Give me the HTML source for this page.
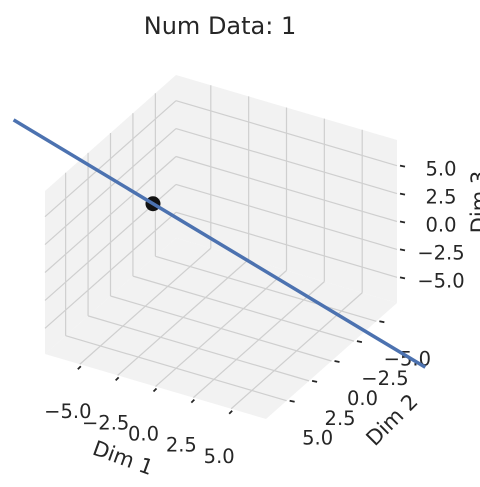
<!DOCTYPE html>
<html><head><meta charset="utf-8"><style>
html,body{margin:0;padding:0;background:#fff;}
svg{display:block;font-family:"DejaVu Sans","Liberation Sans",sans-serif;}
</style></head><body>
<svg id="chart" width="480" height="487" viewBox="0 0 480 487" xmlns="http://www.w3.org/2000/svg">
<text x="220" y="34" text-anchor="middle" font-size="24" fill="#262626">Num Data: 1</text>
<g id="panes"></g>
<g id="grid"></g>
<g id="ticks"></g>
<g id="series"></g>
<text x="0" y="7" font-size="21" fill="#262626" text-anchor="middle" transform="translate(123 458) rotate(20)">Dim 1</text>
<text x="0" y="7" font-size="21" fill="#262626" text-anchor="middle" transform="translate(392 420) rotate(-45)">Dim 2</text>
<text x="0" y="0" font-size="21" fill="#262626" text-anchor="middle" transform="translate(486 202) rotate(-90)">Dim 3</text>
</svg>
<script>
const tickValues = [-5, -2.5, 0, 2.5, 5];
const tickLabels = ["\u22125.0", "\u22122.5", "0.0", "2.5", "5.0"];
const lineX = [-16.3, 10.9];
const lineY = [-4.38, -4.38];
const lineZ = [1.77, -9.55];
const pointX = [-7.09];
const pointY = [-4.38];
const pointZ = [-2.07];

const LIM = 7.3;
const O = [176, 238], EX = [221, 65], EY = [-131, 116], EZ = [0, -163];
function n(v){ return (v + LIM) / (2 * LIM); }
function P(x, y, z){
  const u = n(x), v = n(y), w = n(z);
  return [O[0] + u*EX[0] + v*EY[0] + w*EZ[0], O[1] + u*EX[1] + v*EY[1] + w*EZ[1]];
}
const NS = "http://www.w3.org/2000/svg";
function mk(tag, attrs, parent){
  const e = document.createElementNS(NS, tag);
  for (const k in attrs) e.setAttribute(k, attrs[k]);
  parent.appendChild(e);
  return e;
}
function poly(pts){ return pts.map(p => p[0].toFixed(1) + "," + p[1].toFixed(1)).join(" "); }
const L = -LIM, H = LIM;
const panes = document.getElementById("panes");
const floor = mk("polygon", {points: poly([P(L,L,L),P(H,L,L),P(H,H,L),P(L,H,L)]), fill:"#f2f2f2"}, panes);


const lw = mk("polygon", {points: poly([P(L,L,L),P(L,H,L),P(L,H,H),P(L,L,H)]), fill:"#f2f2f2"}, panes);


const rw = mk("polygon", {points: poly([P(L,L,L),P(H,L,L),P(H,L,H),P(L,L,H)]), fill:"#f2f2f2"}, panes);



const grid = document.getElementById("grid");
function gl(a, b){
  const e = mk("line", {x1:a[0], y1:a[1], x2:b[0], y2:b[1], stroke:"#cfcfcf", "stroke-width":1.2}, grid);
  
  
}
for (const t of tickValues){
  gl(P(t,L,L), P(t,H,L)); gl(P(L,t,L), P(H,t,L));
  gl(P(L,t,L), P(L,t,H)); gl(P(L,L,t), P(L,H,t));
  gl(P(t,L,L), P(t,L,H)); gl(P(L,L,t), P(H,L,t));
}
const ticks = document.getElementById("ticks");
function tm(a, dx, dy){
  const e = mk("line", {x1:a[0], y1:a[1], x2:a[0]+dx, y2:a[1]+dy, stroke:"#262626", "stroke-width":1.8}, ticks);
  
  
}
function tl(x, y, s, anchor){
  const e = mk("text", {x:x, y:y, "font-size":19.5, fill:"#262626", "text-anchor":anchor}, ticks);
  e.textContent = s;
  
  
}
tickValues.forEach((t, i) => {
  const a = P(t, H, L);
  tm([a[0]+1, a[1]+2], -3, 3);
  tl(a[0]-12, a[1]+54, tickLabels[i], "middle");
  const b = P(H, t, L);
  tm([b[0]+3, b[1]], 5, 1);
  tl(b[0]+31, b[1]+44, tickLabels[i], "middle");
  const c = P(H, L, t);
  tm([c[0]+3, c[1]], 5, 1);
  tl(c[0]+44, c[1]+10, tickLabels[i], "middle");
});

const series = document.getElementById("series");
for (let i = 0; i < pointX.length; i++){
  const p = P(pointX[i], pointY[i], pointZ[i]);
  const c = mk("circle", {cx:p[0], cy:p[1], r:7.5, fill:"#111"}, series);
  
  
}
const lp = lineX.map((x, i) => P(x, lineY[i], lineZ[i]));
const pl = mk("polyline", {points: poly(lp), fill:"none", stroke:"#4c72b0", "stroke-width":3.5}, series);


</script>
</body></html>
